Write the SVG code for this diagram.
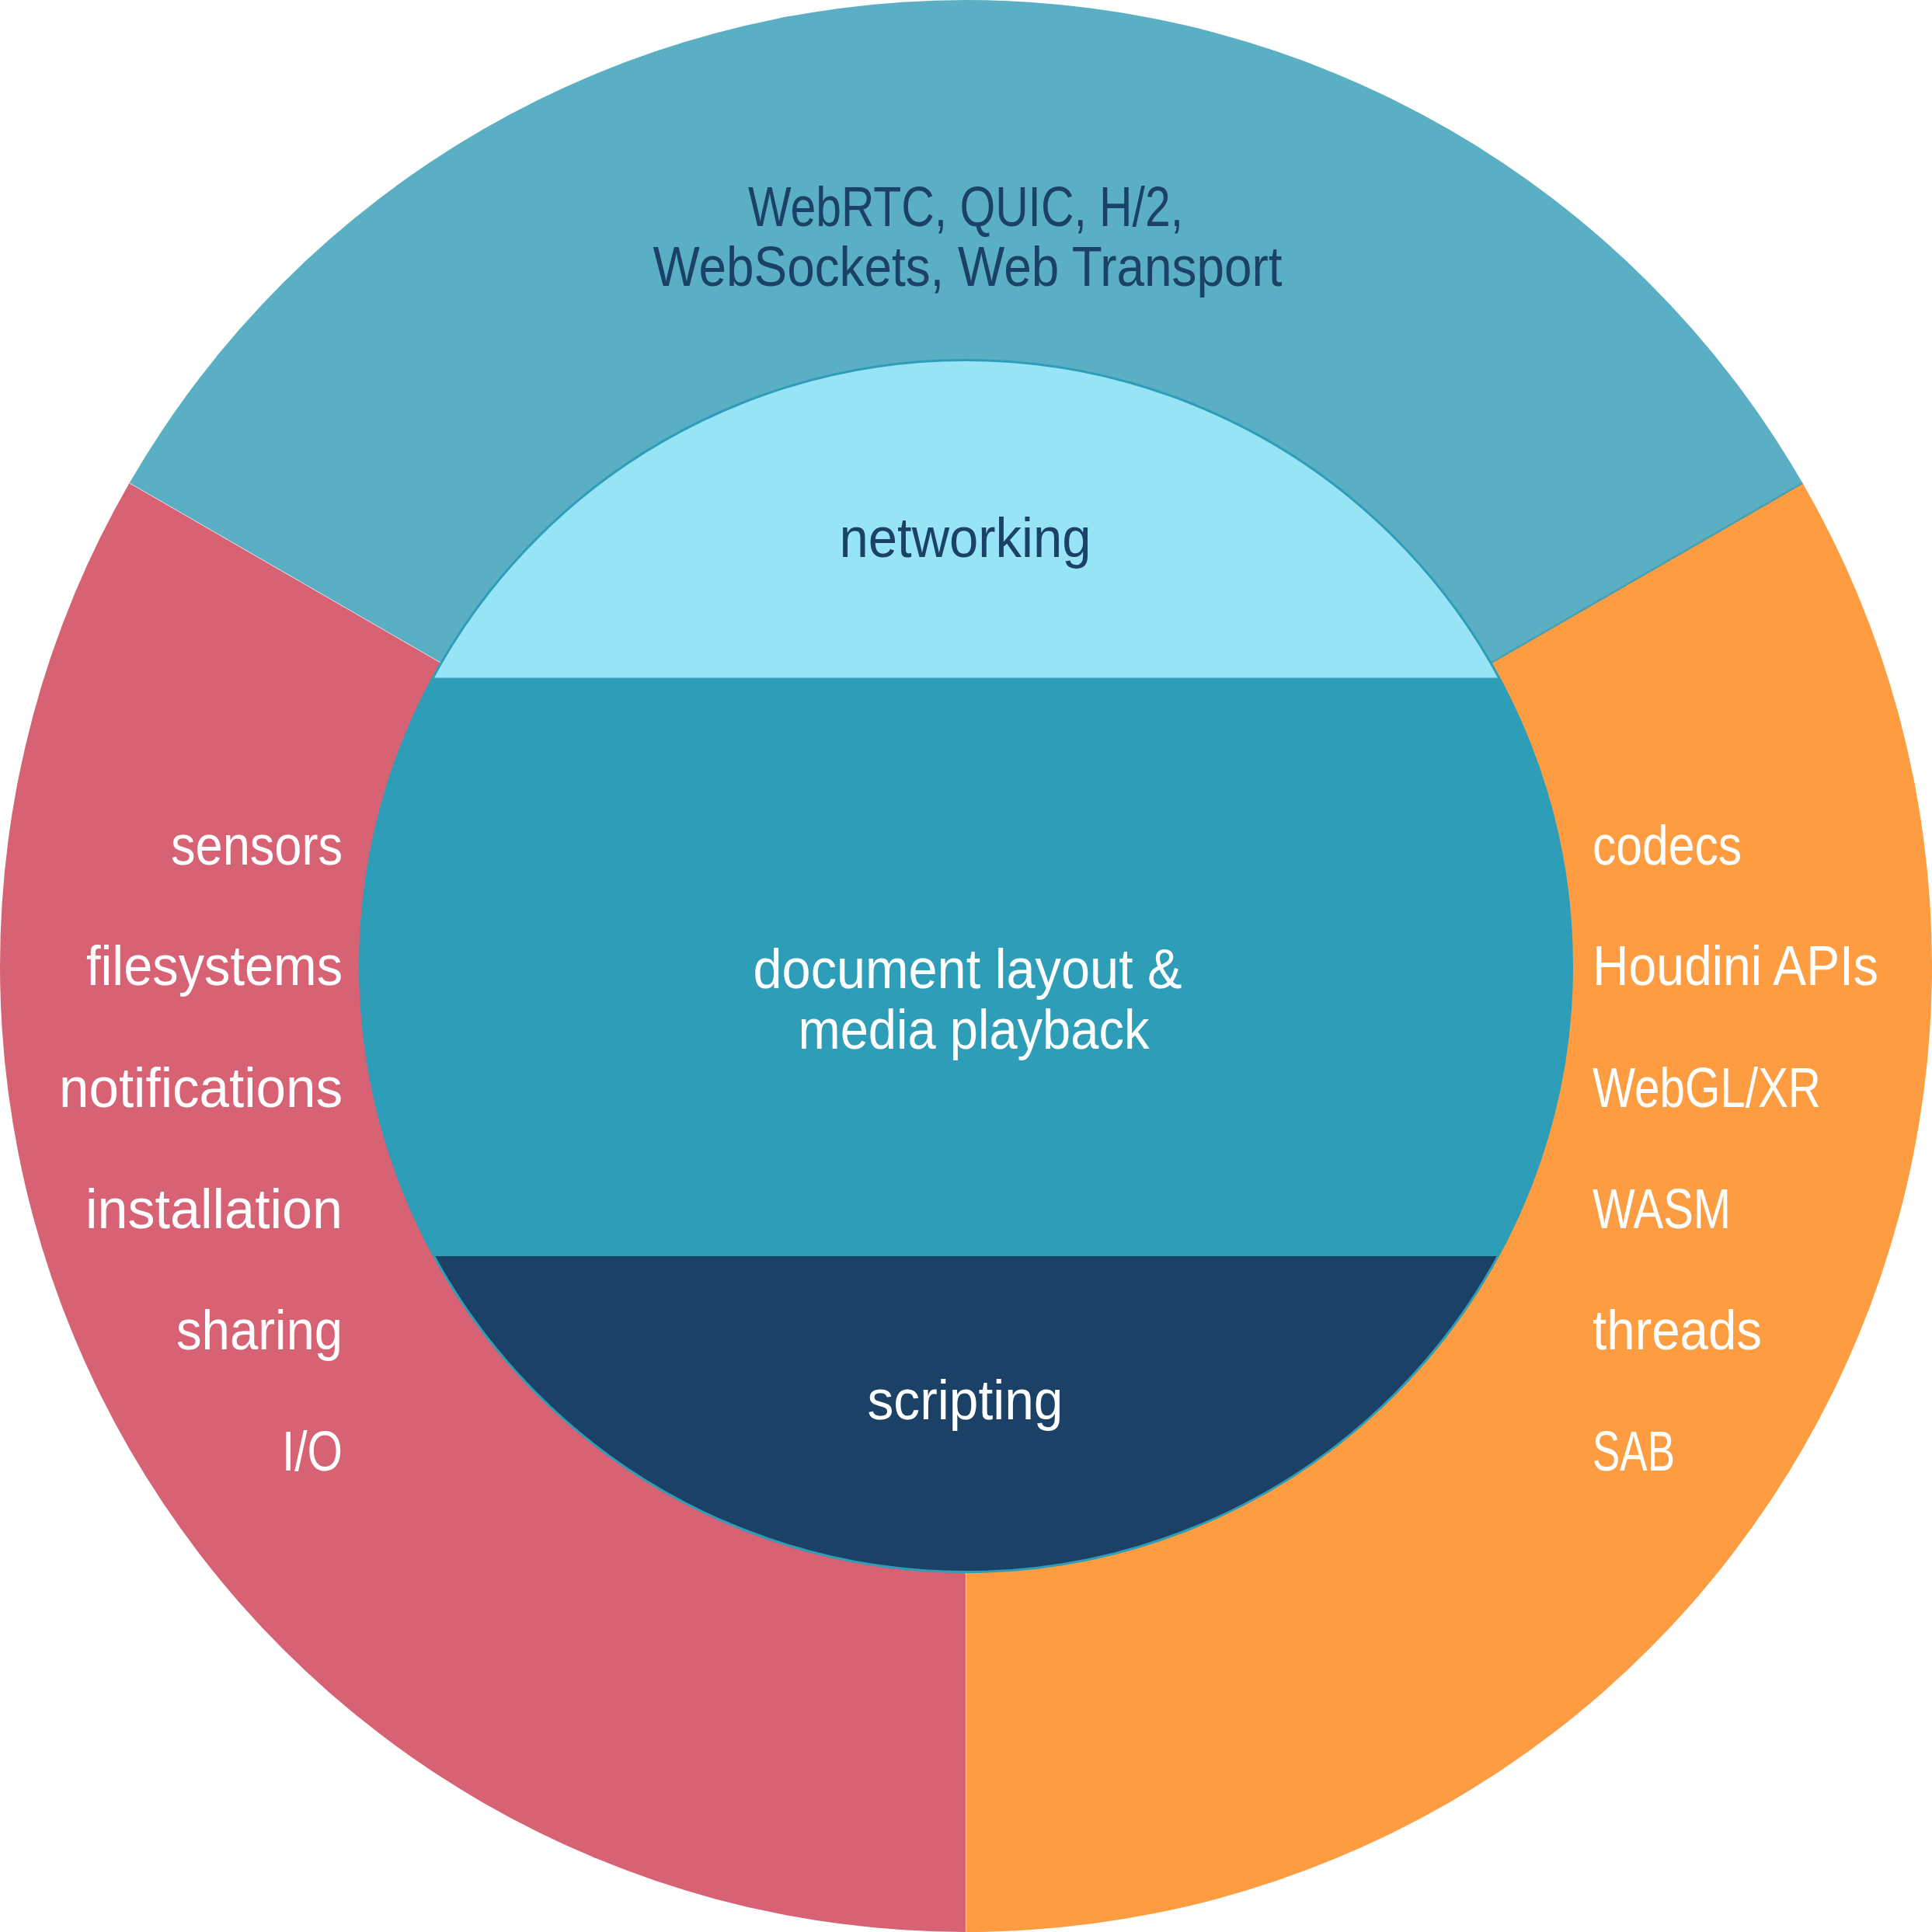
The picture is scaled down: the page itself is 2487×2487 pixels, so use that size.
<svg xmlns="http://www.w3.org/2000/svg" width="2487" height="2487" viewBox="0 0 2487 2487">
  <style>
    .lbl { font-family: "Liberation Sans", Arial, sans-serif; font-size: 72px; }
    .dark { fill: #1C4166; }
    .light { fill: #FFFFFF; }
    .mid { text-anchor: middle; }
    .end { text-anchor: end; }
    .start { text-anchor: start; }
  </style>
  <rect width="2487" height="2487" fill="#FFFFFF"/>

  <g id="outer-networking-protocols">
    <path d="M 1243.5 1243.5 L 166.6 621.75 A 1243.5 1243.5 0 0 1 2320.4 621.75 Z" fill="#5AAFC4"/>
    <text class="lbl dark mid" x="1243" y="291" textLength="560" lengthAdjust="spacingAndGlyphs">WebRTC, QUIC, H/2,</text>
    <text class="lbl dark mid" x="1245.5" y="368" textLength="810" lengthAdjust="spacingAndGlyphs">WebSockets, Web Transport</text>
  </g>

  <g id="outer-device-apis">
    <path d="M 1243.5 1243.5 L 166.6 621.75 A 1243.5 1243.5 0 0 0 1243.5 2487 Z" fill="#D76274"/>
    <text class="lbl light end" x="441" y="1113" textLength="221" lengthAdjust="spacingAndGlyphs">sensors</text>
    <text class="lbl light end" x="441" y="1268" textLength="330" lengthAdjust="spacingAndGlyphs">filesystems</text>
    <text class="lbl light end" x="441" y="1425" textLength="365" lengthAdjust="spacingAndGlyphs">notifications</text>
    <text class="lbl light end" x="441" y="1581" textLength="331" lengthAdjust="spacingAndGlyphs">installation</text>
    <text class="lbl light end" x="441" y="1737" textLength="214" lengthAdjust="spacingAndGlyphs">sharing</text>
    <text class="lbl light end" x="441" y="1893" textLength="78" lengthAdjust="spacingAndGlyphs">I/O</text>
  </g>

  <g id="outer-compute-graphics">
    <path d="M 1243.5 1243.5 L 2320.4 621.75 A 1243.5 1243.5 0 0 1 1243.5 2487 Z" fill="#FD9C40"/>
    <text class="lbl light start" x="2050" y="1113" textLength="192" lengthAdjust="spacingAndGlyphs">codecs</text>
    <text class="lbl light start" x="2050" y="1268" textLength="368" lengthAdjust="spacingAndGlyphs">Houdini APIs</text>
    <text class="lbl light start" x="2050" y="1425" textLength="294" lengthAdjust="spacingAndGlyphs">WebGL/XR</text>
    <text class="lbl light start" x="2050" y="1581" textLength="178" lengthAdjust="spacingAndGlyphs">WASM</text>
    <text class="lbl light start" x="2050" y="1737" textLength="218" lengthAdjust="spacingAndGlyphs">threads</text>
    <text class="lbl light start" x="2050" y="1893" textLength="106" lengthAdjust="spacingAndGlyphs">SAB</text>
  </g>

  <g id="connectors">
    <line x1="2320.4" y1="621.75" x2="1919" y2="853.5" stroke="#4B9FB0" stroke-width="2.5"/>
    <line x1="166.6" y1="621.75" x2="568" y2="853.5" stroke="#E8EEF0" stroke-width="0.8"/>
    <line x1="1243.5" y1="2023.5" x2="1243.5" y2="2487" stroke="#F4E6E0" stroke-width="1"/>
  </g>

  <g id="inner-document-media">
    <circle cx="1243.5" cy="1243.5" r="780" fill="#2E9DB8"/>
    <text class="lbl light mid" x="1245.5" y="1272" textLength="552" lengthAdjust="spacingAndGlyphs">document layout &amp;</text>
    <text class="lbl light mid" x="1253.5" y="1350" textLength="452" lengthAdjust="spacingAndGlyphs">media playback</text>
  </g>

  <g id="inner-networking">
    <path d="M 557.4 872.5 A 780 780 0 0 1 1929.6 872.5 Z" fill="#96E4F6"/>
    <text class="lbl dark mid" x="1242.5" y="717" textLength="324" lengthAdjust="spacingAndGlyphs">networking</text>
  </g>

  <g id="inner-scripting">
    <path d="M 1928.3 1617 A 780 780 0 0 1 558.7 1617 Z" fill="#1C4166"/>
    <text class="lbl light mid" x="1242.5" y="1827" textLength="252" lengthAdjust="spacingAndGlyphs">scripting</text>
  </g>

  <circle cx="1243.5" cy="1243.5" r="780" fill="none" stroke="#2E9DB8" stroke-width="3"/>
</svg>
